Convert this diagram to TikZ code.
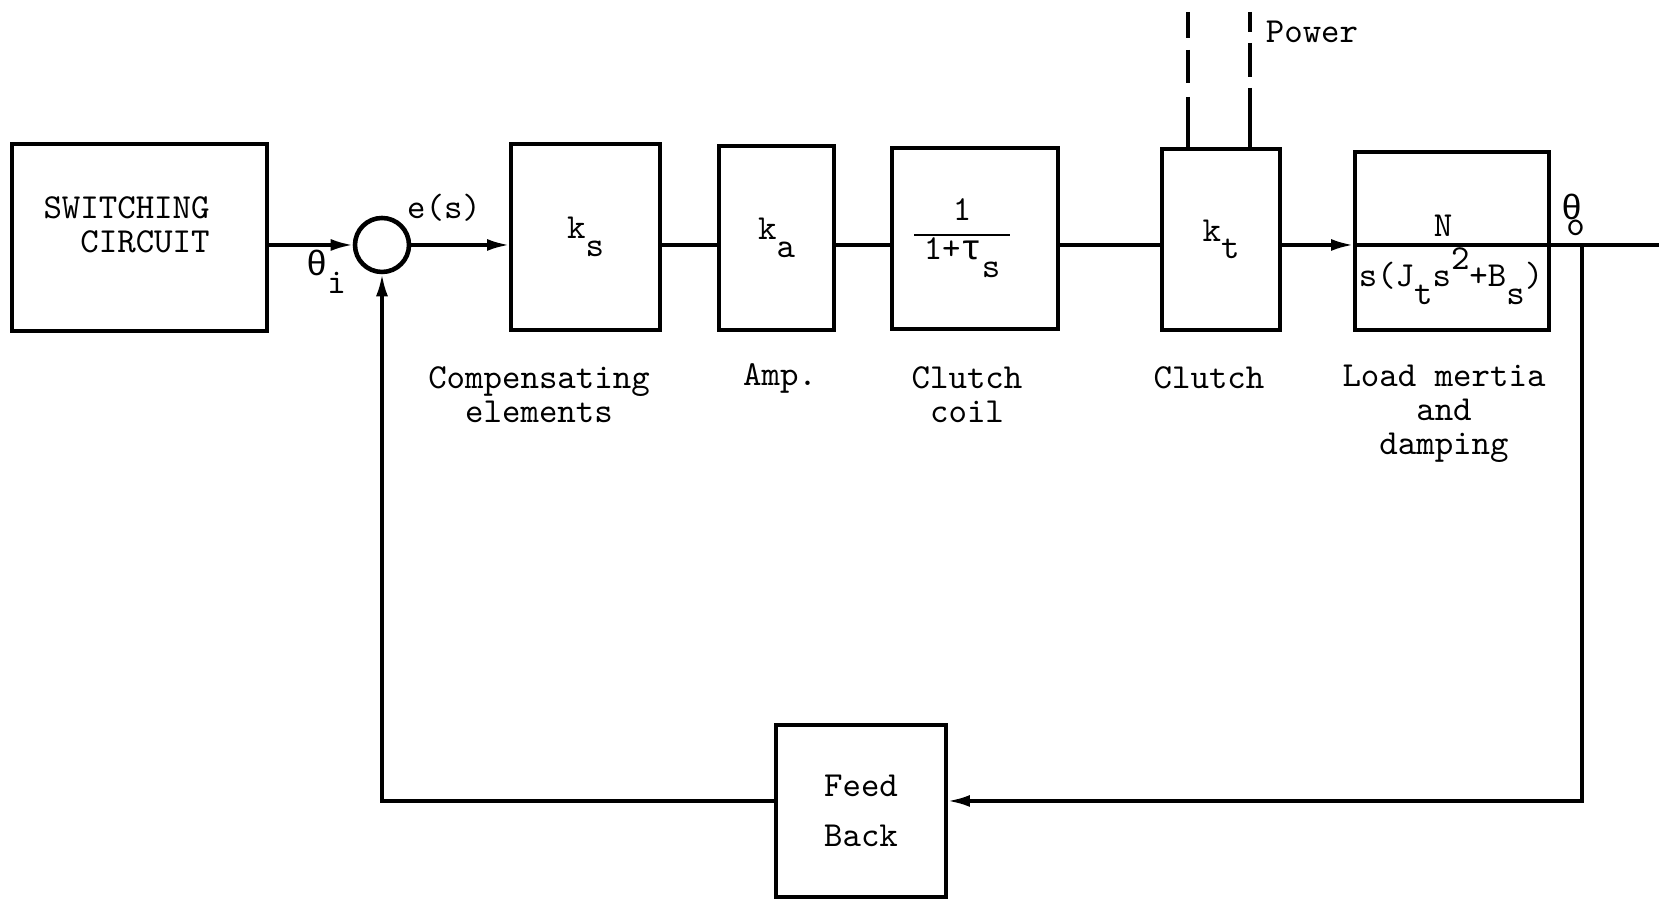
\documentclass[tikz,border=0pt]{standalone}
\usepackage{fontspec}
\newfontfamily\greekmono{Liberation Mono}
\usetikzlibrary{arrows.meta}
\newcommand{\subx}[1]{\raisebox{-0.5em}{#1}}
\newcommand{\supx}[1]{\raisebox{0.5em}{#1}}

\begin{document}
\begin{tikzpicture}[font=\ttfamily\fontsize{10}{9.7}\selectfont,
  block/.style={draw,line width=1.1pt,inner sep=0pt},
  wire/.style={line width=0.9pt},
  tip/.style={-{Latex[length=0.22cm,width=0.12cm]}}]
\useasboundingbox (0,0) rectangle (16.59,8.99);
% blocks of the forward path
\node[block,minimum width=2.55cm,minimum height=1.87cm] (sw) at (1.395,6.615) {};
\node[align=right,anchor=east] (swtxt) at (2.22,6.74) {SWITCHING\\CIRCUIT};
\node[draw,circle,line width=1.3pt,minimum size=0.54cm,inner sep=0pt] (sum) at (3.82,6.54) {};
\node[block,minimum width=1.49cm,minimum height=1.86cm] (ks) at (5.855,6.62) {k\subx{s}};
\node[block,minimum width=1.15cm,minimum height=1.84cm] (ka) at (7.765,6.61) {k\subx{a}};
\node[block,minimum width=1.66cm,minimum height=1.81cm] (coil) at (9.75,6.605) {};
\node (coilfrac) at (9.62,6.62) {\begin{tabular}{@{\hspace{2.7pt}}c@{\hspace{2.7pt}}}1\\[1pt]\hline 1+{\greekmono τ}\subx{s}\end{tabular}};
\node[block,minimum width=1.18cm,minimum height=1.81cm] (clutch) at (12.21,6.595) {k\subx{t}};
\node[block,minimum width=1.94cm,minimum height=1.78cm] (load) at (14.52,6.58) {};
\node[anchor=base] (num) at (14.43,6.62) {N};
\node[anchor=base] (den) at (14.51,6.12) {s(J\subx{t}s\supx{2}+B\subx{s})};
\node[block,minimum width=1.70cm,minimum height=1.72cm,align=center] (fb) at (8.61,0.88) {Feed\\[4.5pt]Back};
% signal labels
\node (ei) at (3.26,6.27) {{\greekmono θ}\subx{i}};
\node (es) at (4.44,6.91) {e(s)};
\node (th) at (15.73,6.84) {{\greekmono θ}\kern-0.45em\raisebox{-0.45em}{o}};
\node (pwr) at (13.12,8.67) {Power};
% names under the blocks
\node[align=center] (lks) at (5.39,5.04) {Compensating\\elements};
\node (lka) at (7.80,5.21) {Amp.};
\node[align=center] (lcoil) at (9.67,5.04) {Clutch\\coil};
\node (lclutch) at (12.09,5.21) {Clutch};
\node[align=center] (lload) at (14.44,4.85) {Load mertia\\and\\damping};
% connectors
\coordinate (out) at (16.59,6.54);
\coordinate (br) at (15.82,6.54);
\coordinate (fbl) at (15.82,0.98);
\coordinate (pwrA) at (11.88,8.87);
\coordinate (pwrB) at (12.50,8.87);
\draw[wire,tip] (sw.east |- sum) -- (sum.west);
\draw[wire,tip] (sum.east) -- (ks.west |- sum);
\draw[wire] (ks.east |- sum) -- (ka.west |- sum);
\draw[wire] (ka.east |- sum) -- (coil.west |- sum);
\draw[wire] (coil.east |- sum) -- (clutch.west |- sum);
\draw[wire,tip] (clutch.east |- sum) -- (load.west |- sum);
\draw[wire] (load.west |- sum) -- (load.east |- sum);
\draw[wire] (load.east |- sum) -- (out);
\draw[wire,tip] (br) -- (fbl) -- (fb.east |- fbl);
\draw[wire,tip] (fb.west |- fbl) -| (sum.south);
\draw[wire,dash pattern=on 0.26cm off 0.12cm on 0.33cm off 0.14cm on 0.6cm] (pwrA) -- (pwrA |- clutch.north);
\draw[wire,dash pattern=on 0.20cm off 0.11cm on 0.34cm off 0.11cm on 0.7cm] (pwrB) -- (pwrB |- clutch.north);
\end{tikzpicture}
\end{document}
